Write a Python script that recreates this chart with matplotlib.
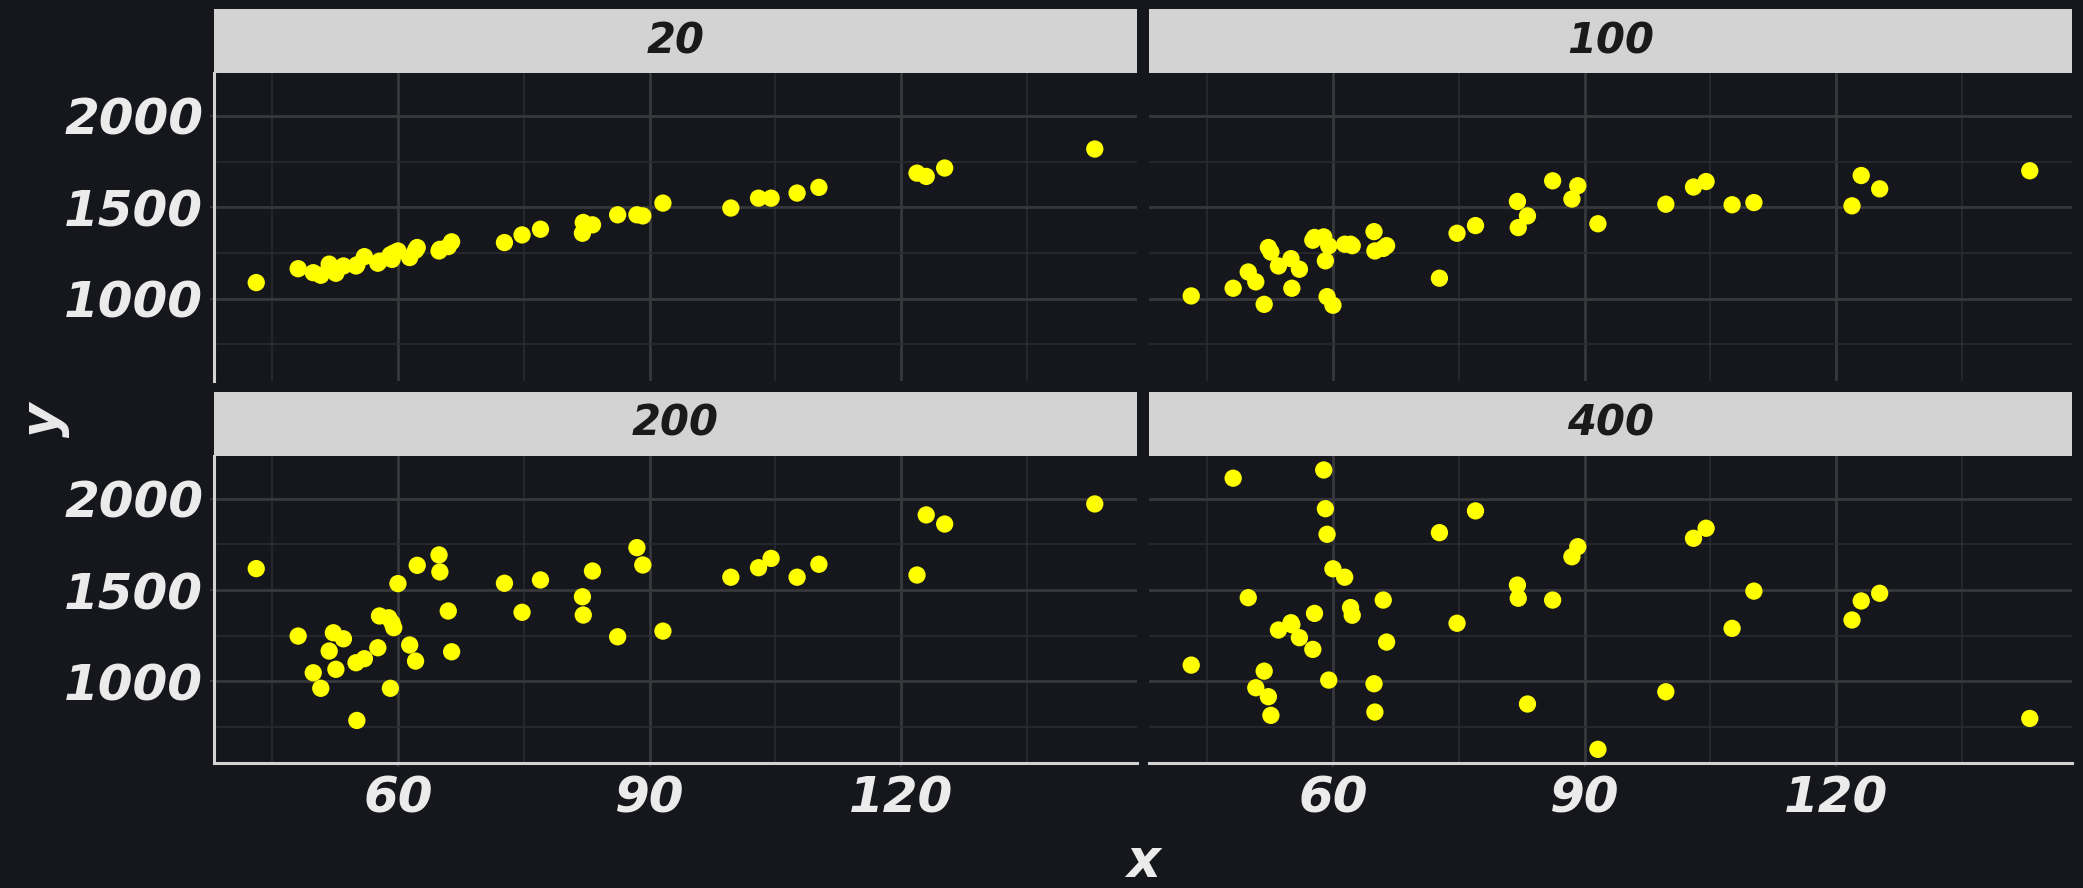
import numpy as np
import matplotlib
matplotlib.use("Agg")
import matplotlib.pyplot as plt

# shared x values (same x in every facet)
x = [43.1, 48.1, 49.9, 50.8, 51.8, 52.3, 52.6, 53.5, 55.0, 55.1,
     56.0, 57.6, 57.8, 58.9, 59.1, 59.3, 59.5, 60.0, 61.4, 62.1,
     62.3, 64.9, 65.0, 66.0, 66.4, 72.7, 74.8, 77.0, 82.0, 82.1,
     83.2, 86.2, 88.5, 89.2, 91.6, 99.7, 103.0, 104.5, 107.6, 110.2,
     121.9, 123.0, 125.2, 143.1]

facets = ["20", "100", "200", "400"]

y_20 = [1088, 1164, 1142, 1128, 1189, 1160, 1139, 1179, 1179, 1185,
        1230, 1194, 1205, 1225, 1240, 1215, 1250, 1261, 1225, 1265,
        1280, 1261, 1270, 1285, 1311, 1307, 1349, 1380, 1358, 1417,
        1404, 1459, 1459, 1453, 1523, 1496, 1550, 1550, 1578, 1609,
        1687, 1669, 1715, 1819]

y_100 = [1015, 1057, 1146, 1092, 969, 1280, 1255, 1179, 1219, 1057,
         1161, 1320, 1335, 1338, 1207, 1011, 1289, 964, 1298, 1298,
         1290, 1367, 1261, 1275, 1290, 1112, 1358, 1400, 1532, 1389,
         1453, 1645, 1545, 1618, 1410, 1517, 1611, 1641, 1514, 1526,
         1508, 1674, 1601, 1700]

y_200 = [1617, 1248, 1047, 962, 1166, 1266, 1066, 1233, 1102, 786,
         1124, 1184, 1358, 1348, 962, 1320, 1294, 1535, 1199, 1111,
         1635, 1692, 1599, 1385, 1162, 1537, 1378, 1555, 1463, 1363,
         1604, 1244, 1732, 1637, 1275, 1570, 1622, 1673, 1570, 1641,
         1582, 1911, 1861, 1971]

y_400 = [1089, 2112, 1458, 965, 1056, 916, 814, 1281, 1321, 1310,
         1239, 1175, 1372, 2157, 1945, 1805, 1007, 1616, 1570, 1404,
         1362, 987, 832, 1445, 1215, 1814, 1318, 1933, 1527, 1455,
         876, 1445, 1682, 1737, 628, 943, 1783, 1838, 1290, 1494,
         1336, 1440, 1482, 797]

ys = [y_20, y_100, y_200, y_400]

BG = "#16171c"
plt.rcParams["font.family"] = ["DejaVu Sans"]


def expand(v, frac=0.05):
    lo, hi = min(v), max(v)
    d = (hi - lo) * frac
    return lo - d, hi + d


xlim = expand(x)
ylim = expand([v for s in ys for v in s])

fig = plt.figure(figsize=(20.83, 8.88), dpi=100, facecolor=BG)

W, H = 2083, 888
lefts = [214.3, 1149.3]
pw = 922.4
tops = [73.3, 456.0]
ph = 307.3
sh = 64.0

for k, name in enumerate(facets):
    r, c = divmod(k, 2)
    l = lefts[c] / W
    b = 1 - (tops[r] + ph) / H
    ax = fig.add_axes([l, b, pw / W, ph / H])
    ax.set_facecolor(BG)
    ax.scatter(x, ys[k], s=155, color="#ffff00", edgecolors="none", zorder=3)
    ax.set_xlim(*xlim)
    ax.set_ylim(*ylim)
    ax.set_xticks([60, 90, 120])
    ax.set_xticks([45, 75, 105, 135], minor=True)
    ax.set_yticks([1000, 1500, 2000])
    ax.set_yticks([750, 1250, 1750], minor=True)
    ax.grid(which="major", color="#37383c", linewidth=2.0)
    ax.grid(which="minor", color="#2a2b30", linewidth=1.2)
    ax.set_axisbelow(True)
    for sp in ax.spines.values():
        sp.set_visible(False)
    ax.tick_params(which="minor", length=0)
    ax.tick_params(which="major", length=3, width=1.5, color="#333333",
                   labelcolor="#ebebeb", labelsize=36, pad=5)
    if c == 0:
        ax.spines["left"].set_visible(True)
        ax.spines["left"].set_color("#d3d3d3")
        ax.spines["left"].set_linewidth(2.2)
    else:
        ax.tick_params(axis="y", left=False, labelleft=False)
    if r == 1:
        ax.spines["bottom"].set_visible(True)
        ax.spines["bottom"].set_color("#d3d3d3")
        ax.spines["bottom"].set_linewidth(2.2)
    else:
        ax.tick_params(axis="x", bottom=False, labelbottom=False)
    for lab in ax.get_xticklabels() + ax.get_yticklabels():
        lab.set_fontstyle("italic")
        lab.set_fontweight("bold")

    # facet strip
    st = fig.add_axes([l, 1 - tops[r] / H, pw / W, sh / H])
    st.set_facecolor("#d3d3d3")
    st.set_xticks([])
    st.set_yticks([])
    for sp in st.spines.values():
        sp.set_visible(False)
    st.text(0.5, 0.5, name, ha="center", va="center", fontsize=30,
            fontstyle="italic", fontweight="bold", color="#1a1a1a",
            transform=st.transAxes)

fig.text(1143 / W, 0.012, "x", ha="center", va="baseline", fontsize=38,
         fontstyle="italic", fontweight="bold", color="#ebebeb")
fig.text(44 / W, 1 - 420 / H, "y", ha="center", va="center", rotation=90,
         fontsize=38, fontstyle="italic", fontweight="bold", color="#ebebeb")

fig.savefig("out.png", dpi=100, facecolor=BG)
